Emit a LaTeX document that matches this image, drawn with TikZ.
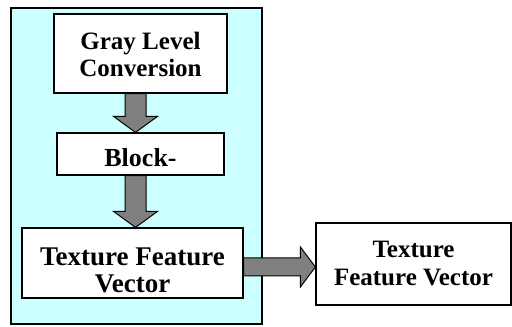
\documentclass[tikz,border=0pt]{standalone}
\usepackage{fontspec}
\setmainfont{Liberation Serif}
\usepackage{xcolor}
\usetikzlibrary{calc}

\definecolor{panelcyan}{RGB}{204,255,255}
\definecolor{arrowgray}{RGB}{128,128,128}

% fat down arrow between two boxes, #3 = sideways offset
\newcommand{\vfat}[3]{%
  \path[fat] let \p1=($(#1.south)+(#3,0)$), \p2=($(#2.north)+(#3,0)$) in
    (\x1-10.5pt,\y1) -- (\x1+10.5pt,\y1) -- (\x1+10.5pt,\y2+16pt) -- (\x1+22pt,\y2+16pt)
    -- (\x1,\y2) -- (\x1-22pt,\y2+16pt) -- (\x1-10.5pt,\y2+16pt) -- cycle;}
% fat right arrow, #3 = vertical offset
\newcommand{\hfat}[3]{%
  \path[fat] let \p1=($(#1.east)+(0,#3)$), \p2=($(#2.west)+(0,#3)$) in
    (\x1,\y1+9pt) -- (\x2-15pt,\y1+9pt) -- (\x2-15pt,\y1+20pt) -- (\x2,\y1)
    -- (\x2-15pt,\y1-20pt) -- (\x2-15pt,\y1-9pt) -- (\x1,\y1-9pt) -- cycle;}

\begin{document}
\begin{tikzpicture}[x=1pt,y=1pt,
                    thick,box/.style={rectangle,draw,line width=1.2pt,fill=white,inner sep=0pt,
                    align=center,font=\bfseries},
                    fat/.style={draw,line width=1pt,fill=arrowgray}]
 \useasboundingbox (0,0) rectangle (512,327);

 \node[rectangle,draw,line width=1.2pt,fill=panelcyan,minimum width=251pt,minimum height=316pt] (panel) at (136.5,161) {};

 \node[box,minimum width=173pt,minimum height=79pt,font=\bfseries\fontsize{25}{27}\selectfont] (gray) at (140.5,273.5) {\rule{0pt}{20pt}Gray Level\\Conversion};

 \node[box,minimum width=167pt,minimum height=42pt,text height=26pt,text depth=0pt,font=\bfseries\fontsize{26}{28}\selectfont] (block) at (140.5,173) {Block-};

 \node[box,minimum width=221pt,minimum height=70pt,font=\bfseries\fontsize{27}{27}\selectfont] (texleft) at (132.5,64) {\rule{0pt}{32pt}Texture Feature\\Vector};

 \node[box,minimum width=195pt,minimum height=82pt,font=\bfseries\fontsize{25}{28}\selectfont] (texright) at (413.5,63) {Texture\\Feature Vector};

 \vfat{gray}{block}{-5}
 \vfat{block}{texleft}{-5}
 \hfat{texleft}{texright}{-4}

\end{tikzpicture}
\end{document}
